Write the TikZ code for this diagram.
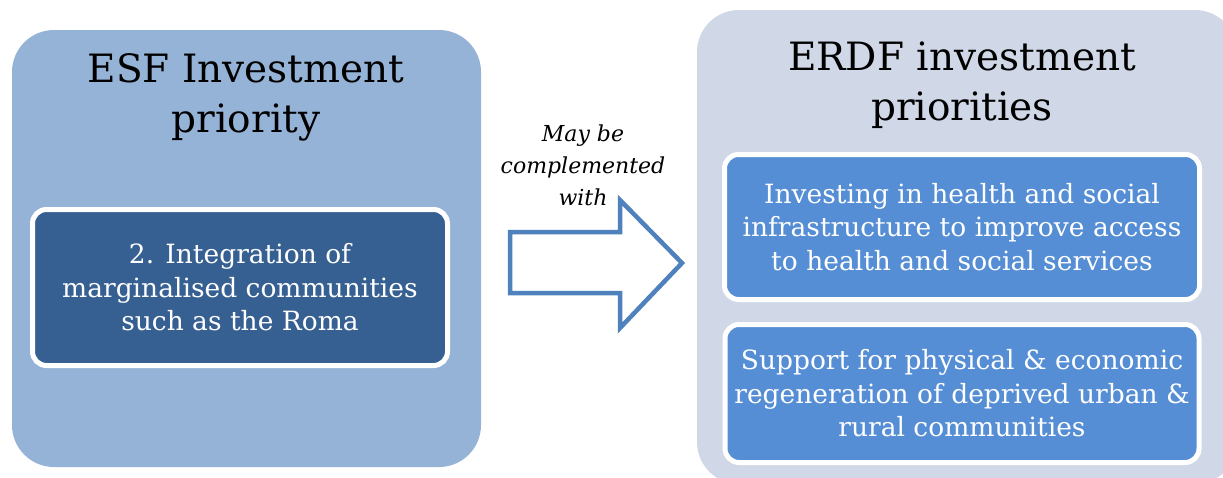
\documentclass[tikz,border=0pt]{standalone}
\usepackage{fontspec}
\setmainfont{DejaVu Serif}
\usetikzlibrary{positioning}

\definecolor{esfback}{RGB}{149,179,215}
\definecolor{esfdark}{RGB}{54,96,146}
\definecolor{erdfback}{RGB}{208,216,232}
\definecolor{erdfitem}{RGB}{85,142,213}
\definecolor{arrowblue}{RGB}{79,129,189}

\tikzset{
  panel/.style={fill=#1, rounded corners=42pt, inner sep=0pt},
  itembox/.style={fill=#1, draw=white, line width=5pt, rounded corners=14pt,
    text=white, align=center, inner sep=0pt,
    font=\fontsize{26.5}{33.5}\selectfont},
  paneltitle/.style={align=center, font=\fontsize{39}{50}\selectfont},
}

\begin{document}
\begin{tikzpicture}[x=1pt,y=-1pt]
  \useasboundingbox (0,0) rectangle (1223,477);

  % left panel
  \node[panel=esfback, minimum width=469pt, minimum height=437pt]
    (esf) at (246.5,248.5) {};
  \node[paneltitle] (esftitle) at (246,97) {ESF Investment\\priority};
  \node[itembox=esfdark, minimum width=415pt, minimum height=156pt]
    (roma) at (240,287.5) {2. Integration of\\marginalised communities\\such as the Roma};

  % right panel
  \node[panel=erdfback, minimum width=540pt, minimum height=474pt]
    (erdf) at (967,247) {};
  \node[paneltitle] (erdftitle) at (962,85) {ERDF investment\\priorities};
  \node[itembox=erdfitem, minimum width=475pt, minimum height=145pt]
    (health) at (962,227) {Investing in health and social\\infrastructure to improve access\\to health and social services};
  \node[itembox=erdfitem, minimum width=474pt, minimum height=138pt,
    below=20pt of health] (regen)
    {Support for physical \& economic\\regeneration of deprived urban \&\\rural communities};

  % block arrow
  \draw[arrowblue, line width=4.5pt, fill=white]
    (510,232) -- (620,232) -- (620,200) -- (682,263)
    -- (620,328) -- (620,293) -- (510,293) -- cycle;
  \node[align=center, font=\itshape\fontsize{22}{32}\selectfont]
    (note) at (583,165) {May be\\complemented\\with};
\end{tikzpicture}
\end{document}
